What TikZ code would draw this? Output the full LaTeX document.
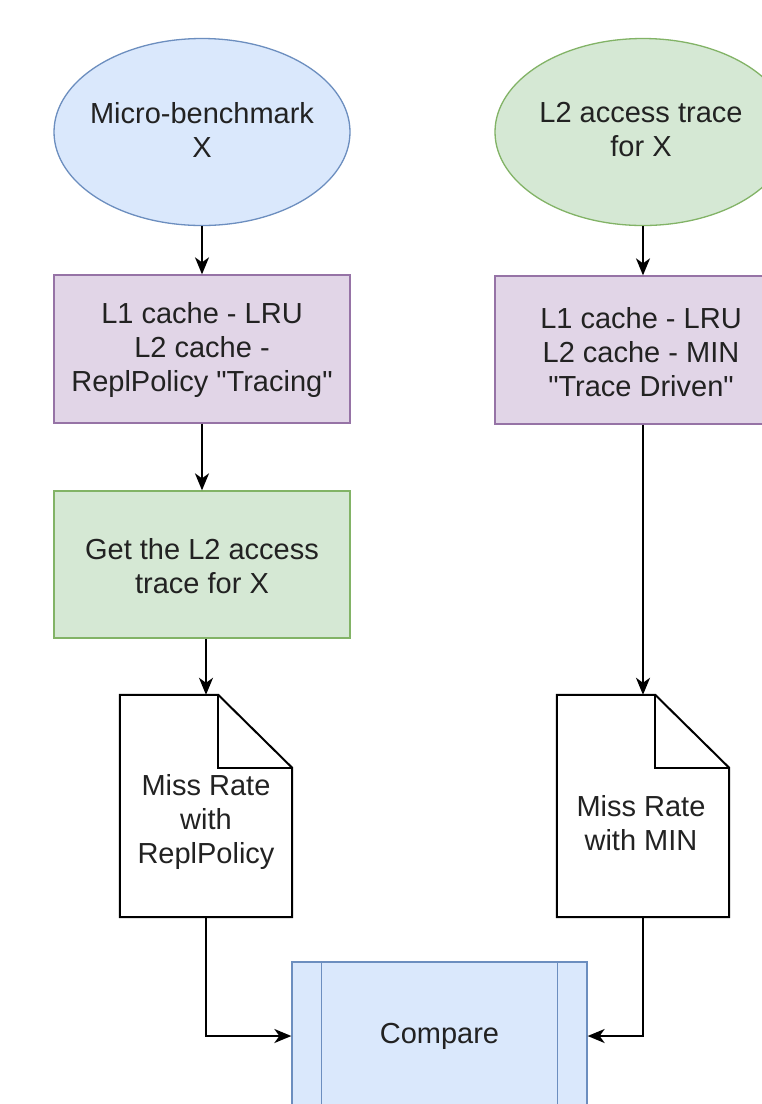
\documentclass[tikz,border=0pt]{standalone}
\usepackage{fontspec}
\newfontfamily\diafont{Liberation Sans}
\usetikzlibrary{shapes.geometric,arrows.meta}
\definecolor{bluefill}{HTML}{DAE8FC}
\definecolor{bluedraw}{HTML}{6C8EBF}
\definecolor{greenfill}{HTML}{D5E8D4}
\definecolor{greendraw}{HTML}{82B366}
\definecolor{purplefill}{HTML}{E1D5E7}
\definecolor{purpledraw}{HTML}{9673A6}
\definecolor{txt}{HTML}{222222}
\begin{document}
\begin{tikzpicture}[x=1pt,y=-1pt,
  every node/.style={font=\diafont\fontsize{29}{34}\selectfont, text=txt, align=center, inner sep=0pt},
  ell/.style={ellipse, minimum width=296pt, minimum height=187pt, line width=1.3pt},
  box/.style={rectangle, minimum width=296pt, minimum height=148pt, line width=1.3pt},
  doc/.style={rectangle, minimum width=172pt, minimum height=222pt},
  docline/.style={line width=2pt, draw=black, fill=white, line join=miter},
  conn/.style={line width=2pt, -{Stealth[length=17pt,width=14pt,inset=5pt]}}
]
\useasboundingbox (0,0) rectangle (762,1104);
\clip (0,0) rectangle (762,1104);
\fill[white] (0,0) rectangle (762,1104);

% left column
\node[ell, fill=bluefill, draw=bluedraw] (e1) at (202,132) {};
\node at (202,130) {Micro-benchmark\\X};
\node[box, fill=purplefill, draw=purpledraw] (r1) at (202,349) {};
\node at (202,350) {L1 cache - LRU\\L2 cache -\\ReplPolicy "Tracing"};
\node[box, fill=greenfill, draw=greendraw, minimum height=147pt] (g1) at (202,564.5) {};
\node at (202,566) {Get the L2 access\\trace for X};

\node[doc] (d1) at (206,806) {};
\draw[docline] (d1.north west) -- ([xshift=-74pt]d1.north east) -- ([yshift=-73pt]d1.north east) -- (d1.south east) -- (d1.south west) -- cycle;
\draw[line width=2pt] ([xshift=-74pt]d1.north east) |- ([yshift=-73pt]d1.north east);
\node at (206,822) {Miss Rate\\with\\ReplPolicy};

% right column
\node[ell, fill=greenfill, draw=greendraw] (e2) at (643,132) {};
\node at (641,130) {L2 access trace\\for X};
\node[box, fill=purplefill, draw=purpledraw] (r2) at (643,350) {};
\node at (641,352) {L1 cache - LRU\\L2 cache - MIN\\"Trace Driven"};

\node[doc] (d2) at (643,806) {};
\draw[docline] (d2.north west) -- ([xshift=-74pt]d2.north east) -- ([yshift=-73pt]d2.north east) -- (d2.south east) -- (d2.south west) -- cycle;
\draw[line width=2pt] ([xshift=-74pt]d2.north east) |- ([yshift=-73pt]d2.north east);
\node at (641,823) {Miss Rate\\with MIN};

% compare
\node[box, fill=bluefill, draw=bluedraw, minimum width=295pt] (cmp) at (439.5,1036) {};
\draw[bluedraw, line width=1.3pt] ([xshift=30pt]cmp.north west) -- ([xshift=30pt]cmp.south west);
\draw[bluedraw, line width=1.3pt] ([xshift=-30pt]cmp.north east) -- ([xshift=-30pt]cmp.south east);
\node at (439.5,1036) {Compare};

% connectors
\draw[conn] (e1.south) -- (r1.north);
\draw[conn] (r1.south) -- (g1.north);
\draw[conn] (g1.south -| d1.north) -- (d1.north);
\draw[conn] (e2.south) -- (r2.north);
\draw[conn] (r2.south) -- (d2.north);
\draw[conn] (d1.south) |- (cmp.west);
\draw[conn] (d2.south) |- (cmp.east);
\end{tikzpicture}
\end{document}
